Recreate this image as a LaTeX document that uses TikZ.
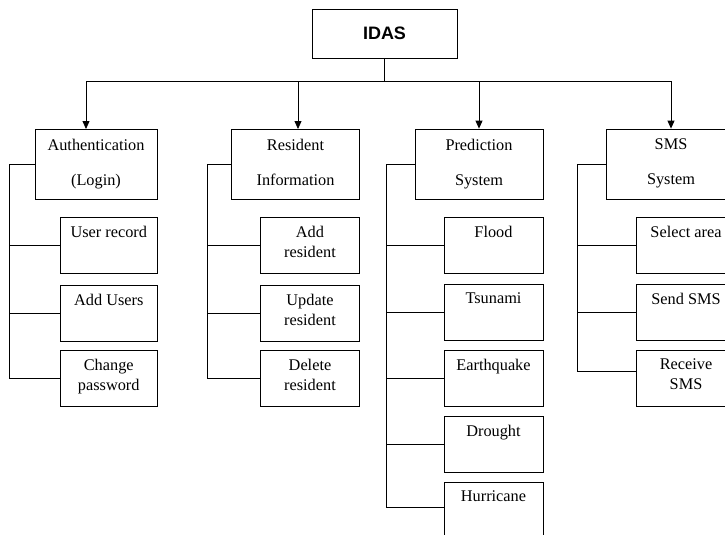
\documentclass[tikz,border=0pt]{standalone}
\usepackage{fontspec}
\setmainfont{Liberation Serif}
\newfontfamily\headfont{Liberation Sans}
\usetikzlibrary{arrows.meta}

\tikzset{
  box/.style={draw, line width=0.8pt, inner sep=0pt, minimum height=56pt, minimum width=99pt},
  topbox/.style={box, minimum height=70pt, minimum width=128pt},
  boxtext/.style={anchor=north, inner sep=0pt, align=center, font=\fontsize{16.3}{20}\selectfont},
  toptext/.style={boxtext, font=\fontsize{16.3}{35}\selectfont},
  link/.style={line width=0.8pt},
  down/.style={link, -{Triangle[length=8pt,width=7pt]}},
}

\begin{document}
\begin{tikzpicture}[x=1pt,y=-1pt]
\useasboundingbox (0,0) rectangle (725,535);
%Root
\node[box, minimum width=145pt, minimum height=49pt] (idas) at (384.5,33.5) {};
\node[inner sep=0pt, font=\headfont\bfseries\fontsize{18}{20}\selectfont] (idasT) at (idas.center) {IDAS};
%Level one
\node[topbox, minimum width=122pt] (auth) at (96,164) {};
\node[topbox] (res) at (295.5,164) {};
\node[topbox] (pred) at (479,164) {};
\node[topbox, minimum width=130pt] (sms) at (671,164) {};
\node[toptext] (authT) at ([yshift=-10pt]auth.north) {Authentication\\(Login)};
\node[toptext] (resT) at ([yshift=-10pt]res.north) {Resident\\Information};
\node[toptext] (predT) at ([yshift=-10pt]pred.north) {Prediction\\System};
\node[toptext] (smsT) at ([yshift=-10pt]sms.north) {SMS\\System};
%Bus and arrows
\coordinate (bus) at (0,81);
\coordinate (authin) at (86,129);
\coordinate (resin) at (298,129);
\draw[link] (idas.south) -- (idas.south |- bus);
\draw[link] (authin |- bus) -- (sms.north |- bus);
\draw[down] (authin |- bus) -- (authin);
\draw[down] (resin |- bus) -- (resin);
\draw[down] (pred.north |- bus) -- (pred.north);
\draw[down] (sms.north |- bus) -- (sms.north);
%Authentication
\node[box, minimum width=96.5pt] (auth1) at (108.75,245) {};
\node[box, minimum width=96.5pt] (auth2) at (108.75,313) {};
\node[box, minimum width=96.5pt] (auth3) at (108.75,378) {};
\node[boxtext] (auth1T) at ([yshift=-9pt]auth1.north) {User record};
\node[boxtext] (auth2T) at ([yshift=-9pt]auth2.north) {Add Users};
\node[boxtext] (auth3T) at ([yshift=-9pt]auth3.north) {Change\\password};
\coordinate (authspine) at (9,164);
\draw[link] (auth.west) -- (authspine) |- (auth3.west);
\draw[link] (auth1.west) -- (auth1.west -| authspine);
\draw[link] (auth2.west) -- (auth2.west -| authspine);
%Resident
\node[box] (res1) at (310,245) {};
\node[box] (res2) at (310,313) {};
\node[box] (res3) at (310,378) {};
\node[boxtext] (res1T) at ([yshift=-9pt]res1.north) {Add\\resident};
\node[boxtext] (res2T) at ([yshift=-9pt]res2.north) {Update\\resident};
\node[boxtext] (res3T) at ([yshift=-9pt]res3.north) {Delete\\resident};
\coordinate (resspine) at (207,164);
\draw[link] (res.west) -- (resspine) |- (res3.west);
\draw[link] (res1.west) -- (res1.west -| resspine);
\draw[link] (res2.west) -- (res2.west -| resspine);
%Prediction
\node[box] (pred1) at (493.5,245) {};
\node[box] (pred2) at (493.5,312) {};
\node[box] (pred3) at (493.5,378) {};
\node[box] (pred4) at (493.5,444) {};
\node[box] (pred5) at (493.5,510) {};
\node[boxtext] (pred1T) at ([yshift=-9pt]pred1.north) {Flood};
\node[boxtext] (pred2T) at ([yshift=-9pt]pred2.north) {Tsunami};
\node[boxtext] (pred3T) at ([yshift=-9pt]pred3.north) {Earthquake};
\node[boxtext] (pred4T) at ([yshift=-9pt]pred4.north) {Drought};
\node[boxtext] (pred5T) at ([yshift=-9pt]pred5.north) {Hurricane};
\coordinate (predspine) at (386,164);
\draw[link] (pred.west) -- (predspine) |- ([yshift=3pt]pred5.west);
\draw[link] (pred1.west) -- (pred1.west -| predspine);
\draw[link] (pred2.west) -- (pred2.west -| predspine);
\draw[link] (pred3.west) -- (pred3.west -| predspine);
\draw[link] (pred4.west) -- (pred4.west -| predspine);
%SMS
\node[box, minimum width=100pt] (sms1) at (686,245) {};
\node[box, minimum width=100pt] (sms2) at (686,312) {};
\node[box, minimum width=100pt] (sms3) at (686,378) {};
\node[boxtext] (sms1T) at ([yshift=-9pt]sms1.north) {Select area};
\node[boxtext] (sms2T) at ([yshift=-9pt]sms2.north) {Send SMS};
\node[boxtext] (sms3T) at ([yshift=-9pt]sms3.north) {Receive\\SMS};
\coordinate (smsspine) at (577,164);
\draw[link] (sms.west) -- (smsspine) |- ([yshift=7pt]sms3.west);
\draw[link] (sms1.west) -- (sms1.west -| smsspine);
\draw[link] (sms2.west) -- (sms2.west -| smsspine);
\end{tikzpicture}
\end{document}
